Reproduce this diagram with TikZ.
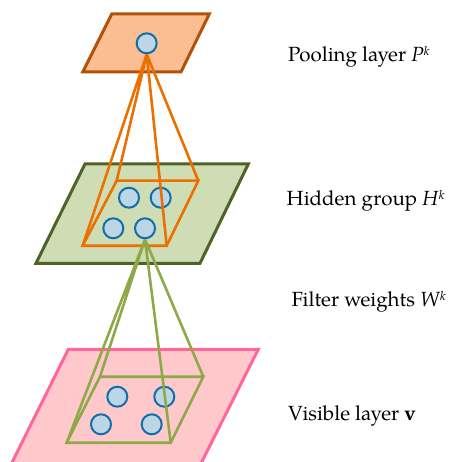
\documentclass[tikz,border=0pt]{standalone}
\usepackage{fontspec}
\setmainfont{TeX Gyre Pagella}
\definecolor{visfill}{RGB}{255,201,204}
\definecolor{visdraw}{RGB}{255,102,153}
\definecolor{hidfill}{RGB}{207,221,180}
\definecolor{hiddraw}{RGB}{79,98,40}
\definecolor{poolfill}{RGB}{250,190,146}
\definecolor{pooldraw}{RGB}{178,82,10}
\definecolor{unitfill}{RGB}{188,214,232}
\definecolor{unitdraw}{RGB}{20,110,170}
\definecolor{oline}{RGB}{236,112,0}
\definecolor{gline}{RGB}{142,169,72}
\newcommand{\supk}{\raisebox{0.6ex}{\fontsize{12.5}{13}\selectfont\itshape k}}
\begin{document}
\begin{tikzpicture}[x=1pt,y=-1pt,
  plane/.style={line width=3pt,line join=miter},
  unit/.style={circle,draw=unitdraw,fill=unitfill,line width=2pt,minimum size=20pt,inner sep=0pt},
  olines/.style={draw=oline,line width=2.6pt,line join=miter},
  glines/.style={draw=gline,line width=2.6pt,line join=miter},
  lab/.style={anchor=base west,inner sep=0pt,font=\fontsize{20.5}{24}\selectfont}]
\useasboundingbox (0,0) rectangle (459,462);
% visible layer
\fill[visfill] (68.3,349.3) -- (258.3,349.3) -- (197.7,470) -- (8.3,470) -- cycle;
\draw[plane,visdraw] (8.3,470) -- (68.3,349.3) -- (258.3,349.3) -- (197.7,470);
% hidden layer
\draw[plane,draw=hiddraw,fill=hidfill] (85,164) -- (248.3,164) -- (200,263.3) -- (36,263.3) -- cycle;
% pooling layer
\draw[plane,draw=pooldraw,fill=poolfill] (111.7,14) -- (209.3,14) -- (181,72) -- (82.7,72) -- cycle;
% units
\node[unit] (p) at (146.7,43.3) {};
\node[unit] (h1) at (129,197.7) {};
\node[unit] (h2) at (160.7,197.7) {};
\node[unit] (h3) at (113.3,228.3) {};
\node[unit] (h4) at (145,228.3) {};
\node[unit] (v1) at (117.3,396.7) {};
\node[unit] (v2) at (164.3,396.7) {};
\node[unit] (v3) at (101,424.3) {};
\node[unit] (v4) at (151.7,424.3) {};
% orange frustum
\coordinate (oa) at (116.7,180.7);
\coordinate (ob) at (198.3,180.7);
\coordinate (oc) at (166.7,245.7);
\coordinate (od) at (82.7,245.7);
\draw[olines] (oa) -- (ob) -- (oc) -- (od) -- cycle;
\draw[olines] (p.south) -- (oa) (p.south) -- (ob) (p.south) -- (oc) (p.south) -- (od);
% green frustum
\coordinate (ga) at (100,376.7);
\coordinate (gb) at (203.3,376.7);
\coordinate (gc) at (170.7,442.7);
\coordinate (gd) at (66.7,442.7);
\draw[glines] (ga) -- (gb) -- (gc) -- (gd) -- cycle;
\draw[glines] (h4.south) -- (ga) (h4.south) -- (gb) (h4.south) -- (gc) (h4.south) -- (gd);
% labels
\node[lab] (lp) at (288,61.5) {Pooling layer \textit{P}\supk};
\node[lab] (lh) at (286.5,205.7) {Hidden group \textit{H}\supk};
\node[lab] (lw) at (291.5,306.7) {Filter weights \textit{W}\supk};
\node[lab] (lv) at (288,420) {Visible layer \textbf{v}};
\end{tikzpicture}
\end{document}
